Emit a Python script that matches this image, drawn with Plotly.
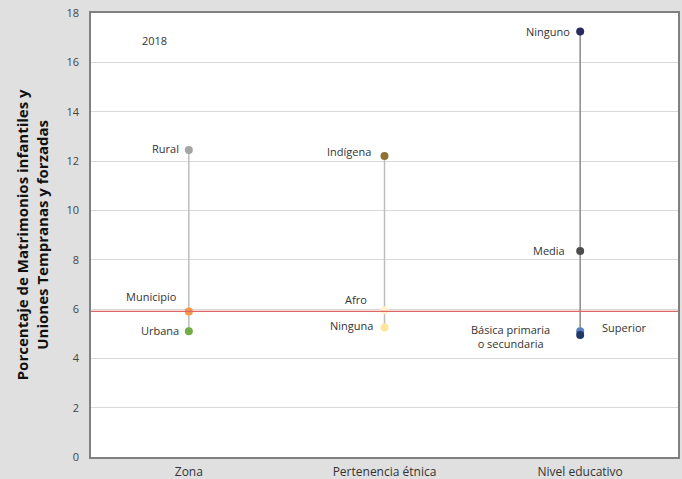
import plotly.graph_objects as go

# Data
groups = ["Zona", "Pertenencia étnica", "Nivel educativo"]
zona_labels = ["Rural", "Municipio", "Urbana"]
zona_values = [12.45, 5.9, 5.1]
zona_colors = ["#a5a5a5", "#f79646", "#70ad47"]

etnia_labels = ["Indígena", "Afro", "Ninguna"]
etnia_values = [12.2, 5.95, 5.25]
etnia_colors = ["#8c7430", "#fff2cc", "#ffe699"]

educ_labels = ["Ninguno", "Media", "Superior", "Básica primaria<br>o secundaria"]
educ_values = [17.25, 8.35, 5.1, 4.95]
educ_colors = ["#2b2a5c", "#4d4d4d", "#5b7fc0", "#1f3864"]

national_avg = 5.9
year_label = "2018"
y_ticks = [0, 2, 4, 6, 8, 10, 12, 14, 16, 18]
y_title = "Porcentaje de Matrimonios infantiles y<br>Uniones Tempranas y forzadas"

# label offsets (xanchor, xshift, yshift) - styling only
zona_off = [("right", -8, 1), ("right", -10, 15), ("right", -8, 1)]
etnia_off = [("right", -12, 5), ("right", -16, 11), ("right", -10, 2)]
educ_off = [("right", -8, 0), ("right", -13, 1), ("left", 20, 4), ("right", -28, -2)]

FONT = "Open Sans, Lato, sans-serif"

fig = go.Figure()

series = [
    (groups[0], zona_labels, zona_values, zona_colors, zona_off, "#bdbdbd"),
    (groups[1], etnia_labels, etnia_values, etnia_colors, etnia_off, "#bdbdbd"),
    (groups[2], educ_labels, educ_values, educ_colors, educ_off, "#8a8a8a"),
]

for g, labels, vals, cols, offs, lc in series:
    fig.add_trace(go.Scatter(
        x=[g, g], y=[min(vals), max(vals)], mode="lines",
        line=dict(color=lc, width=1.5), showlegend=False, hoverinfo="skip"))
for g, labels, vals, cols, offs, lc in series:
    fig.add_trace(go.Scatter(
        x=[g] * len(vals), y=vals, mode="markers",
        marker=dict(color=cols, size=8), text=labels,
        showlegend=False, hoverinfo="text+y"))
    for lab, v, (xa, xs, ys) in zip(labels, vals, offs):
        fig.add_annotation(x=g, y=v, text=lab, showarrow=False,
                           xanchor=xa, yanchor="middle", xshift=xs, yshift=ys,
                           align="center",
                           font=dict(family=FONT, size=11, color="#333333"))

fig.add_shape(type="line", xref="paper", x0=0, x1=1, y0=national_avg, y1=national_avg,
              line=dict(color="#e06666", width=1.3), layer="above")

fig.add_annotation(xref="paper", x=0.109, y=16.9, text=year_label, showarrow=False,
                   xanchor="center", yanchor="middle",
                   font=dict(family=FONT, size=11, color="#333333"))

fig.add_annotation(xref="paper", yref="paper", x=-0.1, y=0.5, text="<b>" + y_title + "</b>",
                   textangle=-90, showarrow=False, xanchor="center", yanchor="middle",
                   align="center", font=dict(family=FONT, size=15, color="#111111"))

fig.update_layout(
    width=682, height=479,
    margin=dict(l=91, r=4, t=13, b=22, autoexpand=False),
    paper_bgcolor="#e0e0e0", plot_bgcolor="#ffffff",
    xaxis=dict(type="category", categoryorder="array", categoryarray=groups,
               range=[-0.5, 2.5], showgrid=False, showline=True, mirror=True,
               linecolor="#808080", linewidth=1.5, ticks="", ticklabelstandoff=3,
               tickfont=dict(family=FONT, size=12, color="#333333")),
    yaxis=dict(range=[0, 18], tickvals=y_ticks, showgrid=True, gridcolor="#d9d9d9",
               gridwidth=1, showline=True, mirror=True, linecolor="#808080",
               linewidth=1.5, zeroline=False, ticks="", ticklen=0, ticklabelstandoff=8,
               tickfont=dict(family=FONT, size=11, color="#444444")),
    font=dict(family=FONT),
)

fig.write_html("out.html", config={"displayModeBar": False},
               post_script="document.body.style.margin='0';document.body.style.padding='0';document.body.style.overflow='hidden';")
